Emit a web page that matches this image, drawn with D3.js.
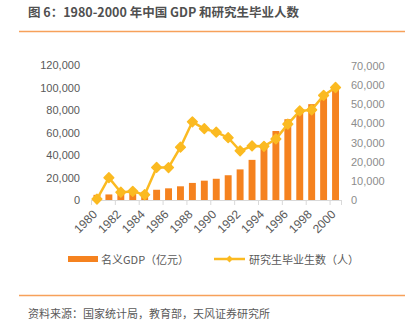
<!doctype html>
<html>
<head>
<meta charset="utf-8">
<style>
	body{margin:0;background:#fff;}
	svg{display:block;}
	.ax text{font-family:"Liberation Sans",Arial,sans-serif;font-size:11px;}
	.cjk{font-family:"Noto Sans CJK SC","Liberation Sans",sans-serif;}
</style>
</head>
<body>
<div id="chart"></div>
<script src="https://d3js.org/d3.v7.min.js"></script>
<script>

var years = ['1980','1981','1982','1983','1984','1985','1986','1987','1988','1989','1990',
	'1991','1992','1993','1994','1995','1996','1997','1998','1999','2000'];
// 名义GDP（亿元）
var gdp = [4587,4936,5373,6021,7279,9099,10376,12175,15180,17180,18873,
	22006,27195,35673,48638,61340,71814,79715,85196,90564,100280];
// 研究生毕业生数（人）
var grads = [476,11669,4058,4497,2756,17004,16950,27603,40838,37232,35440,
	32537,25692,28214,28047,31877,39652,46539,47077,54670,58767];
var leftTicks = [0,20000,40000,60000,80000,100000,120000];
var rightTicks = [0,10000,20000,30000,40000,50000,60000,70000];
var yearLabels = ['1980','1982','1984','1986','1988','1990','1992','1994','1996','1998','2000'];

var W = 412, H = 323;
var BAR_COLOR = '#F5821F', LINE_COLOR = '#FBBA21';

var svg = d3.select('#chart').append('svg')
	.attr('width', W)
	.attr('height', H);

// title + rules
svg.append('text')
	.attr('class','cjk')
	.attr('x', 28).attr('y', 17)
	.attr('fill', '#505050')
	.style('font-size','12.5px').style('font-weight','bold')
	.text('图 6：1980-2000 年中国 GDP 和研究生毕业人数');
svg.append('line').attr('x1',19).attr('x2',405).attr('y1',31.5).attr('y2',31.5)
	.attr('stroke','#F7A15A').attr('stroke-width',1.5);
svg.append('line').attr('x1',19).attr('x2',405).attr('y1',295.5).attr('y2',295.5)
	.attr('stroke','#F7A15A').attr('stroke-width',1.5);
svg.append('text')
	.attr('class','cjk')
	.attr('x', 28).attr('y', 318)
	.attr('fill', '#595959')
	.style('font-size','11px')
	.text('资料来源：国家统计局，教育部，天风证券研究所');

var x = d3.scaleBand().domain(years).range([91, 341.5]).paddingInner(0.42).paddingOuter(0.21);
var yL = d3.scaleLinear().domain([0,120000]).range([200, 65]);
var yR = d3.scaleLinear().domain([0,70000]).range([200, 66]);

// left axis
var gl = svg.append('g').attr('class','ax')
	.attr('transform','translate(80,0)')
	.call(d3.axisLeft(yL).tickValues(leftTicks).tickSize(0).tickPadding(0).tickFormat(d3.format(',')));
gl.select('.domain').remove();
gl.selectAll('text').attr('fill','#595959');

// right axis
var gr = svg.append('g').attr('class','ax')
	.attr('transform','translate(351,0)')
	.call(d3.axisRight(yR).tickValues(rightTicks).tickSize(0).tickPadding(0).tickFormat(d3.format(',')));
gr.select('.domain').remove();
gr.selectAll('text').attr('fill','#8C8C8C');

// baseline with a tick every two years
svg.append('line').attr('x1',91).attr('x2',341.5).attr('y1',200.5).attr('y2',200.5)
	.attr('stroke','#D9D9D9').attr('stroke-width',1);
var step = x.step();
svg.selectAll('.xt').data(years.filter(function(d,i){ return i % 2 === 0; }).concat(['end']))
	.enter().append('line')
	.attr('x1', function(d){ return d === 'end' ? 341.5 : x(d) - x.paddingInner()*step/2 + 0.5; })
	.attr('x2', function(d){ return d === 'end' ? 341.5 : x(d) - x.paddingInner()*step/2 + 0.5; })
	.attr('y1',200).attr('y2',205)
	.attr('stroke','#D9D9D9');

// year labels
svg.selectAll('.xl').data(yearLabels).enter().append('text')
	.attr('transform', function(d){
		return 'translate(' + (x(d) + x.bandwidth()/2 + 1) + ',215) rotate(-45)';
	})
	.attr('text-anchor','end')
	.attr('fill','#595959')
	.style('font-family','"Liberation Sans",Arial,sans-serif')
	.style('font-size','12px')
	.text(function(d){ return d; });

// GDP bars
svg.selectAll('.bar').data(gdp).enter().append('rect')
	.attr('x', function(d,i){ return x(years[i]); })
	.attr('y', function(d){ return yL(d); })
	.attr('width', x.bandwidth())
	.attr('height', function(d){ return 200 - yL(d); })
	.attr('fill', BAR_COLOR);

// graduates line
var line = d3.line()
	.x(function(d,i){ return x(years[i]) + x.bandwidth()/2; })
	.y(function(d){ return yR(d); });
svg.append('path').datum(grads)
	.attr('d', line)
	.attr('fill','none')
	.attr('stroke', LINE_COLOR)
	.attr('stroke-width', 2.5);
var diamond = d3.symbol().type(d3.symbolDiamond2).size(60);
svg.selectAll('.pt').data(grads).enter().append('path')
	.attr('d', diamond)
	.attr('transform', function(d,i){
		return 'translate(' + (x(years[i]) + x.bandwidth()/2) + ',' + yR(d) + ')';
	})
	.attr('fill', LINE_COLOR)
	.attr('stroke', LINE_COLOR)
	.attr('stroke-width', 1.5)
	.attr('stroke-linejoin', 'round');

// legend
svg.append('rect').attr('x',68).attr('y',256).attr('width',30).attr('height',6).attr('fill',BAR_COLOR);
svg.append('text').attr('class','cjk').attr('x',101).attr('y',263.5)
	.attr('fill','#595959').style('font-size','11px').text('名义GDP（亿元）');
svg.append('line').attr('x1',214).attr('x2',245).attr('y1',259).attr('y2',259)
	.attr('stroke',LINE_COLOR).attr('stroke-width',2.5);
svg.append('path').attr('d', d3.symbol().type(d3.symbolDiamond2).size(30))
	.attr('transform','translate(229.5,259)')
	.attr('fill',LINE_COLOR);
svg.append('text').attr('class','cjk').attr('x',249).attr('y',263.5)
	.attr('fill','#595959').style('font-size','11px').text('研究生毕业生数（人）');
</script>
</body>
</html>
